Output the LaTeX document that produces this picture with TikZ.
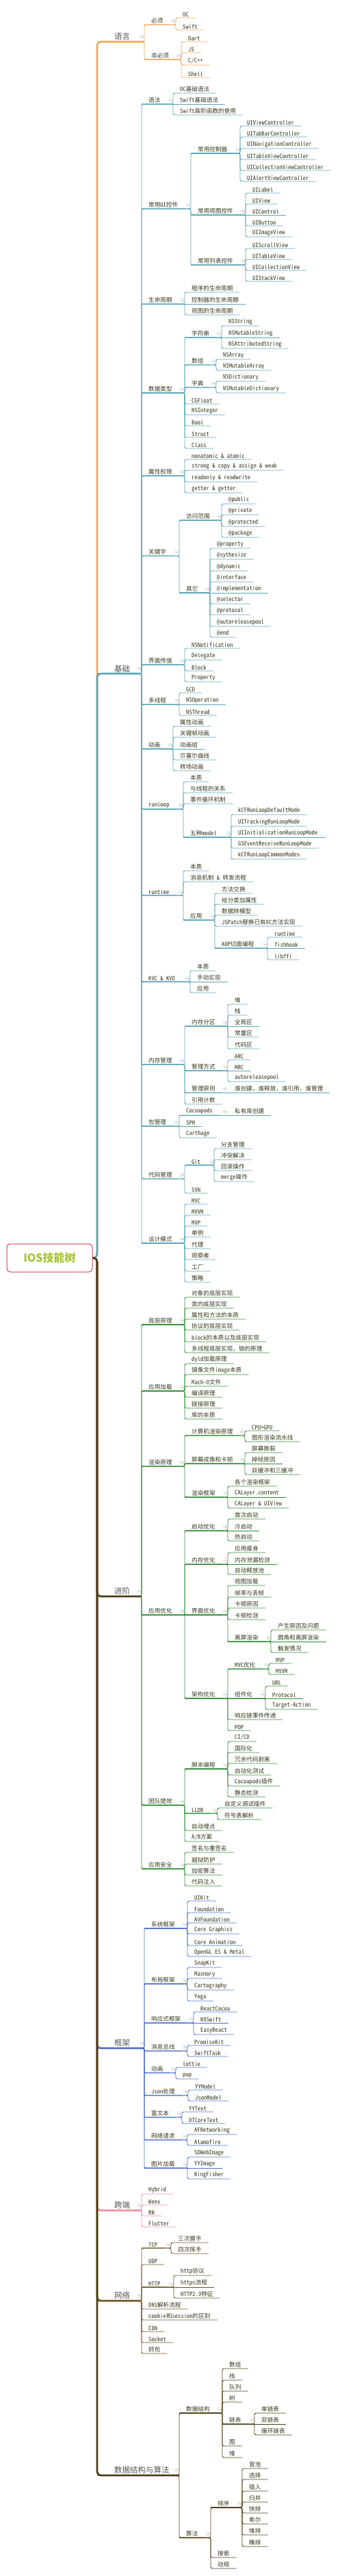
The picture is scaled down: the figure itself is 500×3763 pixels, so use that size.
\documentclass[tikz,border=0pt]{standalone}
\usepackage{fontspec}
\setmainfont{Noto Sans CJK SC}
\newfontfamily\monocjk{Noto Sans Mono CJK SC}
\usepackage{xcolor}
\usepackage{tikz}

\definecolor{langc}{HTML}{F2A65A}
\definecolor{basec}{HTML}{5AA4B8}
\definecolor{advc}{HTML}{2F8A33}
\definecolor{fwc}{HTML}{4C70C8}
\definecolor{xc}{HTML}{F08C9E}
\definecolor{netc}{HTML}{6E5220}
\definecolor{algc}{HTML}{4A3C12}
\definecolor{txt}{HTML}{34341A}
\definecolor{maintxt}{HTML}{555555}
\definecolor{rootred}{HTML}{D0404F}
\definecolor{rootgreen}{HTML}{A3C42F}

\begin{document}
\begin{tikzpicture}[x=1pt, y=-1pt,
    leaf/.style={anchor=south west, inner xsep=10pt, inner ysep=1.5pt, text=txt, font=\monocjk\fontsize{8.6}{10}\selectfont},
    topic/.style={anchor=south west, inner xsep=25pt, inner ysep=2pt, text=maintxt, font=\fontsize{11.5}{13}\selectfont},
    root/.style={draw=rootred, line width=1pt, rounded corners=5pt, minimum width=125pt, minimum height=41pt, text=rootgreen, font=\fontsize{16}{18}\selectfont\bfseries},
    ln/.style={draw=#1, line width=0.9pt},
    trunk/.style={draw=#1, line width=2.6pt, rounded corners=6pt},
    kid/.style={rounded corners=2.5pt, to path={-- (\tikztotarget.south west |- \tikztostart) |- (\tikztotarget.south east)}},
    flat/.style={to path={-- (\tikztotarget.south east)}},
    fold/.style={circle, draw=gray!40, line width=0.4pt, minimum size=5.5pt, inner sep=0pt, anchor=east, xshift=-1pt,
        path picture={\draw[gray!55, line width=0.4pt] ([xshift=1.3pt]path picture bounding box.west) -- ([xshift=-1.3pt]path picture bounding box.east);}}]
        \useasboundingbox (0,0) rectangle (500,3763);

        % Root
        \node[root] (root) at (72.5,1837.5) {IOS技能树};

        % 语言
        \node[topic] (lang) at (142,61) {语言};
        \node[leaf] (must) at (211,36) {必须};
        \node[leaf] (oc) at (257,26) {OC};
        \node[leaf] (swift) at (257,44) {Swift};
        \node[leaf] (optional) at (211,87) {非必须};
        \node[leaf] (dart) at (265,61) {Dart};
        \node[leaf] (js) at (265,77) {JS};
        \node[leaf] (cpp) at (265,95) {C/C++};
        \node[leaf] (shell) at (265,113) {Shell};

        % 基础
        \node[topic] (base) at (142,984) {基础};
        \node[leaf] (syntax) at (207,152) {语法};
        \node[leaf] (ocsyn) at (253,136) {OC基础语法};
        \node[leaf] (swiftsyn) at (253,152) {Swift基础语法};
        \node[leaf] (swifthof) at (253,168) {Swift高阶函数的使用};
        \node[leaf] (uikit) at (207,305) {常用UI控件};
        \node[leaf] (ctrls) at (279,224) {常用控制器};
        \node[leaf] (uivc) at (351,184) {UIViewController};
        \node[leaf] (uitabbar) at (351,200) {UITabBarController};
        \node[leaf] (uinav) at (351,217) {UINavigationController};
        \node[leaf] (uitablevc) at (351,233) {UITableViewController};
        \node[leaf] (uicollvc) at (351,249) {UICollectionViewController};
        \node[leaf] (uialert) at (351,265) {UIAlertViewController};
        \node[leaf] (views) at (279,314) {常用视图控件};
        \node[leaf] (uilabel) at (359,282) {UILabel};
        \node[leaf] (uiview) at (359,298) {UIView};
        \node[leaf] (uicontrol) at (359,314) {UIControl};
        \node[leaf] (uibutton) at (359,330) {UIButton};
        \node[leaf] (uiimage) at (359,346) {UIImageView};
        \node[leaf] (lists) at (279,387) {常用列表控件};
        \node[leaf] (uiscroll) at (359,363) {UIScrollView};
        \node[leaf] (uitable) at (359,379) {UITableView};
        \node[leaf] (uicoll) at (359,395) {UICollectionView};
        \node[leaf] (uistack) at (359,411) {UIStackView};
        \node[leaf] (life) at (207,444) {生命周期};
        \node[leaf] (applife) at (270,427) {程序的生命周期};
        \node[leaf] (vclife) at (270,444) {控制器的生命周期};
        \node[leaf] (viewlife) at (270,460) {视图的生命周期};
        \node[leaf] (types) at (207,574) {数据类型};
        \node[leaf] (strs) at (270,493) {字符串};
        \node[leaf] (nsstring) at (324,476) {NSString};
        \node[leaf] (nsmstring) at (324,493) {NSMutableString};
        \node[leaf] (nsattr) at (324,509) {NSAttributedString};
        \node[leaf] (arrs) at (270,533) {数组};
        \node[leaf] (nsarray) at (316,525) {NSArray};
        \node[leaf] (nsmarray) at (316,541) {NSMutableArray};
        \node[leaf] (dicts) at (270,566) {字典};
        \node[leaf] (nsdict) at (316,557) {NSDictionary};
        \node[leaf] (nsmdict) at (316,574) {NSMutableDictionary};
        \node[leaf] (cgfloat) at (270,590) {CGFloat};
        \node[leaf] (nsinteger) at (270,606) {NSInteger};
        \node[leaf] (bool) at (270,622) {Bool};
        \node[leaf] (struct) at (270,639) {Struct};
        \node[leaf] (class) at (270,655) {Class};
        \node[leaf] (props) at (207,695) {属性权限};
        \node[leaf] (atomic) at (270,671) {nonatomic \& atomic};
        \node[leaf] (strong) at (270,687) {strong \& copy \& assign \& weak};
        \node[leaf] (readonly) at (270,704) {readonly \& readwrite};
        \node[leaf] (getter) at (270,720) {getter \& getter};
        \node[leaf] (keys) at (207,812) {关键字};
        \node[leaf] (scope) at (262,760) {访问范围};
        \node[leaf] (public) at (324,736) {@public};
        \node[leaf] (private) at (324,752) {@private};
        \node[leaf] (protected) at (324,769) {@protected};
        \node[leaf] (package) at (324,785) {@package};
        \node[leaf] (others) at (262,866) {其它};
        \node[leaf] (property) at (307,801) {@property};
        \node[leaf] (synth) at (307,817) {@sythesize};
        \node[leaf] (dynamic) at (307,834) {@dynamic};
        \node[leaf] (interface) at (307,850) {@interface};
        \node[leaf] (impl) at (307,866) {@implementation};
        \node[leaf] (selector) at (307,882) {@selector};
        \node[leaf] (protocol) at (307,898) {@protocol};
        \node[leaf] (autorel) at (307,915) {@autoreleasepool};
        \node[leaf] (atend) at (307,931) {@end};
        \node[leaf] (pass) at (207,971) {界面传值};
        \node[leaf] (notif) at (270,947) {NSNotification};
        \node[leaf] (delegate) at (270,964) {Delegate};
        \node[leaf] (block) at (270,980) {Block};
        \node[leaf] (property2) at (270,996) {Property};
        \node[leaf] (thread) at (207,1029) {多线程};
        \node[leaf] (gcd) at (262,1012) {GCD};
        \node[leaf] (nsop) at (262,1029) {NSOperation};
        \node[leaf] (nsthread) at (262,1045) {NSThread};
        \node[leaf] (anim) at (207,1094) {动画};
        \node[leaf] (propanim) at (253,1061) {属性动画};
        \node[leaf] (keyanim) at (253,1077) {关键帧动画};
        \node[leaf] (groupanim) at (253,1094) {动画组};
        \node[leaf] (bezier) at (253,1110) {贝塞尔曲线};
        \node[leaf] (trans) at (253,1126) {转场动画};
        \node[leaf] (runloop) at (207,1182) {runloop};
        \node[leaf] (rlbasic) at (268,1142) {本质};
        \node[leaf] (rlthread) at (268,1158) {与线程的关系};
        \node[leaf] (rlevent) at (268,1174) {事件循环机制};
        \node[leaf] (rlmodes) at (268,1223) {五种model};
        \node[leaf] (mdefault) at (338,1190) {kCFRunLoopDefaultMode};
        \node[leaf] (mtrack) at (338,1207) {UITrackingRunLoopMode};
        \node[leaf] (minit) at (338,1223) {UIInitializationRunLoopMode};
        \node[leaf] (mgs) at (338,1239) {GSEventReceiveRunLoopMode};
        \node[leaf] (mcommon) at (338,1255) {kCFRunLoopCommonModes};
        \node[leaf] (runtime) at (207,1308) {runtime};
        \node[leaf] (rtbasic) at (268,1272) {本质};
        \node[leaf] (rtmsg) at (268,1288) {消息机制 \& 转发流程};
        \node[leaf] (rtuse) at (268,1344) {应用};
        \node[leaf] (swizzle) at (314,1305) {方法交换};
        \node[leaf] (catprop) at (314,1321) {给分类加属性};
        \node[leaf] (dictmodel) at (314,1337) {数据转模型};
        \node[leaf] (jspatch) at (314,1353) {JSPatch替换已有OC方法实现};
        \node[leaf] (aop) at (314,1385) {AOP切面编程};
        \node[leaf] (aoprt) at (391,1369) {runtime};
        \node[leaf] (fishhook) at (391,1385) {fishhook};
        \node[leaf] (libffi) at (391,1402) {libffi};
        \node[leaf] (kvo) at (207,1434) {KVC \& KVO};
        \node[leaf] (kvobasic) at (278,1418) {本质};
        \node[leaf] (kvomanual) at (278,1434) {手动实现};
        \node[leaf] (kvouse) at (278,1450) {应用};
        \node[leaf] (mem) at (207,1555) {内存管理};
        \node[leaf] (zones) at (270,1499) {内存分区};
        \node[leaf] (heap) at (333,1467) {堆};
        \node[leaf] (stack) at (333,1483) {栈};
        \node[leaf] (global) at (333,1499) {全局区};
        \node[leaf] (const) at (333,1515) {常量区};
        \node[leaf] (code) at (333,1532) {代码区};
        \node[leaf] (mmode) at (270,1564) {管理方式};
        \node[leaf] (arc) at (333,1548) {ARC};
        \node[leaf] (mrc) at (333,1564) {MRC};
        \node[leaf] (arpool) at (333,1580) {autoreleasepool};
        \node[leaf] (mrule) at (270,1596) {管理原则};
        \node[leaf] (whoown) at (333,1596) {谁创建，谁释放，谁引用，谁管理};
        \node[leaf] (refcount) at (270,1613) {引用计数};
        \node[leaf] (pkg) at (207,1645) {包管理};
        \node[leaf] (pods) at (262,1629) {Cocoapods};
        \node[leaf] (privlib) at (333,1629) {私有库创建};
        \node[leaf] (spm) at (262,1645) {SPM};
        \node[leaf] (carthage) at (262,1662) {Carthage};
        \node[leaf] (vcs) at (207,1722) {代码管理};
        \node[leaf] (git) at (270,1702) {Git};
        \node[leaf] (branch) at (313,1678) {分支管理};
        \node[leaf] (conflict) at (313,1694) {冲突解决};
        \node[leaf] (rollback) at (313,1710) {回滚操作};
        \node[leaf] (merge) at (313,1726) {merge操作};
        \node[leaf] (svn) at (270,1743) {SVN};
        \node[leaf] (pattern) at (207,1816) {设计模式};
        \node[leaf] (mvc) at (270,1759) {MVC};
        \node[leaf] (mvvm) at (270,1775) {MVVM};
        \node[leaf] (mvp) at (270,1791) {MVP};
        \node[leaf] (single) at (270,1807) {单例};
        \node[leaf] (proxy) at (270,1824) {代理};
        \node[leaf] (observer) at (270,1840) {观察者};
        \node[leaf] (factory) at (270,1857) {工厂};
        \node[leaf] (strategy) at (270,1873) {策略};

        % 进阶
        \node[topic] (adv) at (142,2332) {进阶};
        \node[leaf] (low) at (207,1935) {底层原理};
        \node[leaf] (objimpl) at (270,1895) {对象的底层实现};
        \node[leaf] (clsimpl) at (270,1911) {类的底层实现};
        \node[leaf] (propmeth) at (270,1927) {属性和方法的本质};
        \node[leaf] (protoimpl) at (270,1943) {协议的底层实现};
        \node[leaf] (blockimpl) at (270,1960) {block的本质以及底层实现};
        \node[leaf] (lockimpl) at (270,1976) {多线程底层实现，锁的原理};
        \node[leaf] (load) at (207,2032) {应用加载};
        \node[leaf] (dyld) at (270,1992) {dyld加载原理};
        \node[leaf] (image) at (270,2008) {镜像文件image本质};
        \node[leaf] (macho) at (270,2025) {Mach-O文件};
        \node[leaf] (compile) at (270,2041) {编译原理};
        \node[leaf] (link) at (270,2057) {链接原理};
        \node[leaf] (lib) at (270,2073) {库的本质};
        \node[leaf] (render) at (207,2142) {渲染原理};
        \node[leaf] (pcrender) at (270,2097) {计算机渲染原理};
        \node[leaf] (cpugpu) at (358,2090) {CPU+GPU};
        \node[leaf] (pipeline) at (358,2106) {图形渲染流水线};
        \node[leaf] (screen) at (270,2138) {屏幕成像和卡顿};
        \node[leaf] (tear) at (358,2122) {屏幕撕裂};
        \node[leaf] (drop) at (358,2138) {掉帧原因};
        \node[leaf] (buffer) at (358,2154) {双缓冲和三缓冲};
        \node[leaf] (rframe) at (270,2187) {渲染框架};
        \node[leaf] (allfw) at (333,2171) {各个渲染框架};
        \node[leaf] (calcontent) at (333,2187) {CALayer.content};
        \node[leaf] (calview) at (333,2203) {CALayer \& UIView};
        \node[leaf] (tune) at (207,2359) {应用优化};
        \node[leaf] (launch) at (270,2236) {启动优化};
        \node[leaf] (first) at (333,2219) {首次启动};
        \node[leaf] (cold) at (333,2236) {冷启动};
        \node[leaf] (hot) at (333,2251) {热启动};
        \node[leaf] (memopt) at (270,2285) {内存优化};
        \node[leaf] (slim) at (333,2268) {应用瘦身};
        \node[leaf] (leak) at (333,2285) {内存泄漏检测};
        \node[leaf] (arpooltwo) at (333,2300) {自动释放池};
        \node[leaf] (uiopt) at (270,2359) {界面优化};
        \node[leaf] (viewload) at (333,2316) {视图加载};
        \node[leaf] (fps) at (333,2333) {帧率与丢帧};
        \node[leaf] (lagwhy) at (333,2349) {卡顿原因};
        \node[leaf] (lagcheck) at (333,2366) {卡顿检测};
        \node[leaf] (offscreen) at (333,2398) {离屏渲染};
        \node[leaf] (offwhy) at (396,2381) {产生原因及问题};
        \node[leaf] (corner) at (396,2398) {圆角和离屏渲染};
        \node[leaf] (trigger) at (396,2414) {触发情况};
        \node[leaf] (arch) at (270,2481) {架构优化};
        \node[leaf] (mvcopt) at (333,2438) {MVC优化};
        \node[leaf] (mvptwo) at (393,2430) {MVP};
        \node[leaf] (mvvmtwo) at (393,2446) {MVVM};
        \node[leaf] (compo) at (333,2481) {组件化};
        \node[leaf] (url) at (388,2463) {URL};
        \node[leaf] (prototwo) at (388,2481) {Protocol};
        \node[leaf] (target) at (388,2497) {Target-Action};
        \node[leaf] (chain) at (333,2512) {响应链事件传递};
        \node[leaf] (pop) at (333,2528) {POP};
        \node[leaf] (team) at (207,2637) {团队提效};
        \node[leaf] (script) at (270,2584) {脚本编程};
        \node[leaf] (cicd) at (333,2544) {CI/CD};
        \node[leaf] (intl) at (333,2560) {国际化};
        \node[leaf] (strip) at (333,2576) {冗余代码剥离};
        \node[leaf] (autotest) at (333,2593) {自动化测试};
        \node[leaf] (podplugin) at (333,2609) {Cocoapods插件};
        \node[leaf] (lint) at (333,2625) {静态检测};
        \node[leaf] (lldb) at (270,2649) {LLDB};
        \node[leaf] (dbgplugin) at (318,2641) {自定义调试插件};
        \node[leaf] (symbol) at (318,2658) {符号表解析};
        \node[leaf] (track) at (270,2674) {自动埋点};
        \node[leaf] (abtest) at (270,2690) {A/B方案};
        \node[leaf] (sec) at (207,2730) {应用安全};
        \node[leaf] (sign) at (270,2706) {签名与重签名};
        \node[leaf] (jail) at (270,2723) {越狱防护};
        \node[leaf] (crypt) at (270,2739) {加密算法};
        \node[leaf] (inject) at (270,2755) {代码注入};

        % 框架
        \node[topic] (frame) at (142,2992) {框架};
        \node[leaf] (sysfw) at (211,2817) {系统框架};
        \node[leaf] (fuikit) at (274,2777) {UIKit};
        \node[leaf] (found) at (274,2794) {Foundation};
        \node[leaf] (avf) at (274,2809) {AVFoundation};
        \node[leaf] (cg) at (274,2825) {Core Graphics};
        \node[leaf] (ca) at (274,2842) {Core Animation};
        \node[leaf] (metal) at (274,2858) {OpenGL ES \& Metal};
        \node[leaf] (layout) at (211,2898) {布局框架};
        \node[leaf] (snapkit) at (274,2874) {SnapKit};
        \node[leaf] (masonry) at (274,2890) {Masnory};
        \node[leaf] (cartog) at (274,2907) {Cartography};
        \node[leaf] (yoga) at (274,2923) {Yoga};
        \node[leaf] (reactive) at (211,2955) {响应式框架};
        \node[leaf] (rac) at (283,2939) {ReactCocoa};
        \node[leaf] (rxswift) at (283,2955) {RXSwift};
        \node[leaf] (easyreact) at (283,2972) {EasyReact};
        \node[leaf] (bus) at (211,2996) {消息总线};
        \node[leaf] (promise) at (274,2988) {PromiseKit};
        \node[leaf] (swifttask) at (274,3004) {SwiftTask};
        \node[leaf] (fanim) at (211,3028) {动画};
        \node[leaf] (lottie) at (257,3020) {lottie};
        \node[leaf] (popfw) at (257,3037) {pop};
        \node[leaf] (json) at (211,3061) {Json处理};
        \node[leaf] (yymodel) at (275,3053) {YYModel};
        \node[leaf] (jsonmodel) at (275,3069) {JsonModel};
        \node[leaf] (rich) at (211,3093) {富文本};
        \node[leaf] (yytext) at (266,3085) {YYText};
        \node[leaf] (dtcore) at (266,3102) {DTCoreText};
        \node[leaf] (http) at (211,3126) {网络请求};
        \node[leaf] (afn) at (274,3118) {AFNetworking};
        \node[leaf] (alamo) at (274,3134) {Alamofire};
        \node[leaf] (img) at (211,3167) {图片加载};
        \node[leaf] (sdweb) at (274,3151) {SDWebImage};
        \node[leaf] (yyimage) at (274,3167) {YYImage};
        \node[leaf] (kingfisher) at (274,3183) {KingFisher};

        % 跨端
        \node[topic] (cross) at (142,3229) {跨端};
        \node[leaf] (hybrid) at (207,3205) {Hybrid};
        \node[leaf] (weex) at (207,3221) {Weex};
        \node[leaf] (rn) at (207,3237) {RN};
        \node[leaf] (flutter) at (207,3253) {Flutter};

        % 网络
        \node[topic] (net) at (142,3361) {网络};
        \node[leaf] (tcp) at (207,3284) {TCP};
        \node[leaf] (shake) at (250,3276) {三次握手};
        \node[leaf] (wave) at (250,3292) {四次挥手};
        \node[leaf] (udp) at (207,3308) {UDP};
        \node[leaf] (httpnet) at (207,3341) {HTTP};
        \node[leaf] (httpproto) at (254,3324) {http协议};
        \node[leaf] (https) at (254,3341) {https流程};
        \node[leaf] (httptwo) at (254,3357) {HTTP2.0特征};
        \node[leaf] (dns) at (207,3373) {DNS解析流程};
        \node[leaf] (cookie) at (207,3389) {cookie和session的区别};
        \node[leaf] (cdn) at (207,3406) {CDN};
        \node[leaf] (socket) at (207,3422) {Socket};
        \node[leaf] (capture) at (207,3438) {抓包};

        % 数据结构与算法
        \node[topic] (algo) at (142,3616) {数据结构与算法};
        \node[leaf] (ds) at (262,3525) {数据结构};
        \node[leaf] (darray) at (325,3460) {数组};
        \node[leaf] (dstack) at (325,3477) {栈};
        \node[leaf] (queue) at (325,3493) {队列};
        \node[leaf] (tree) at (325,3509) {树};
        \node[leaf] (list) at (325,3541) {链表};
        \node[leaf] (slist) at (372,3525) {单链表};
        \node[leaf] (dlist) at (372,3541) {双链表};
        \node[leaf] (clist) at (372,3557) {循环链表};
        \node[leaf] (graph) at (325,3573) {图};
        \node[leaf] (dheap) at (325,3590) {堆};
        \node[leaf] (alg) at (262,3707) {算法};
        \node[leaf] (sort) at (308,3663) {排序};
        \node[leaf] (bubble) at (354,3606) {冒泡};
        \node[leaf] (choose) at (354,3622) {选择};
        \node[leaf] (insert) at (354,3639) {插入};
        \node[leaf] (mergesort) at (354,3655) {归并};
        \node[leaf] (quick) at (354,3671) {快排};
        \node[leaf] (shellsort) at (354,3687) {希尔};
        \node[leaf] (heapsort) at (354,3703) {堆排};
        \node[leaf] (bucket) at (354,3720) {桶排};
        \node[leaf] (search) at (308,3736) {搜索};
        \node[leaf] (dp) at (308,3752) {动规};

        % Branches
        \draw[ln=langc] (lang.south west) edge[kid] (must) edge[kid] (optional) (lang.east -| must.south west) node[fold] (f-lang) {};
        \draw[ln=langc] (must.south west) edge[kid] (oc) edge[kid] (swift) (must.east -| oc.south west) node[fold] (f-must) {};
        \draw[ln=langc] (optional.south west) edge[kid] (dart) edge[kid] (js) edge[kid] (cpp) edge[kid] (shell) (optional.east -| dart.south west) node[fold] (f-optional) {};

        \draw[ln=basec] (base.south west) edge[kid] (syntax) edge[kid] (uikit) edge[kid] (life) edge[kid] (types) edge[kid] (props) edge[kid] (keys) edge[kid] (pass) edge[kid] (thread) edge[kid] (anim) edge[kid] (runloop) edge[kid] (runtime) edge[kid] (kvo) edge[kid] (mem) edge[kid] (pkg) edge[kid] (vcs) edge[kid] (pattern) (base.east -| syntax.south west) node[fold] (f-base) {};
        \draw[ln=basec] (syntax.south west) edge[kid] (ocsyn) edge[flat] (swiftsyn) edge[kid] (swifthof) (syntax.east -| ocsyn.south west) node[fold] (f-syntax) {};
        \draw[ln=basec] (uikit.south west) edge[kid] (ctrls) edge[kid] (views) edge[kid] (lists) (uikit.east -| ctrls.south west) node[fold] (f-uikit) {};
        \draw[ln=basec] (ctrls.south west) edge[kid] (uivc) edge[kid] (uitabbar) edge[kid] (uinav) edge[kid] (uitablevc) edge[kid] (uicollvc) edge[kid] (uialert) (ctrls.east -| uivc.south west) node[fold] (f-ctrls) {};
        \draw[ln=basec] (views.south west) edge[kid] (uilabel) edge[kid] (uiview) edge[flat] (uicontrol) edge[kid] (uibutton) edge[kid] (uiimage) (views.east -| uilabel.south west) node[fold] (f-views) {};
        \draw[ln=basec] (lists.south west) edge[kid] (uiscroll) edge[kid] (uitable) edge[kid] (uicoll) edge[kid] (uistack) (lists.east -| uiscroll.south west) node[fold] (f-lists) {};
        \draw[ln=basec] (life.south west) edge[kid] (applife) edge[flat] (vclife) edge[kid] (viewlife) (life.east -| applife.south west) node[fold] (f-life) {};
        \draw[ln=basec] (types.south west) edge[kid] (strs) edge[kid] (arrs) edge[kid] (dicts) edge[kid] (cgfloat) edge[kid] (nsinteger) edge[kid] (bool) edge[kid] (struct) edge[kid] (class) (types.east -| strs.south west) node[fold] (f-types) {};
        \draw[ln=basec] (strs.south west) edge[kid] (nsstring) edge[flat] (nsmstring) edge[kid] (nsattr) (strs.east -| nsstring.south west) node[fold] (f-strs) {};
        \draw[ln=basec] (arrs.south west) edge[kid] (nsarray) edge[kid] (nsmarray) (arrs.east -| nsarray.south west) node[fold] (f-arrs) {};
        \draw[ln=basec] (dicts.south west) edge[kid] (nsdict) edge[kid] (nsmdict) (dicts.east -| nsdict.south west) node[fold] (f-dicts) {};
        \draw[ln=basec] (props.south west) edge[kid] (atomic) edge[kid] (strong) edge[kid] (readonly) edge[kid] (getter) (props.east -| atomic.south west) node[fold] (f-props) {};
        \draw[ln=basec] (keys.south west) edge[kid] (scope) edge[kid] (others) (keys.east -| scope.south west) node[fold] (f-keys) {};
        \draw[ln=basec] (scope.south west) edge[kid] (public) edge[kid] (private) edge[kid] (protected) edge[kid] (package) (scope.east -| public.south west) node[fold] (f-scope) {};
        \draw[ln=basec] (others.south west) edge[kid] (property) edge[kid] (synth) edge[kid] (dynamic) edge[kid] (interface) edge[flat] (impl) edge[kid] (selector) edge[kid] (protocol) edge[kid] (autorel) edge[kid] (atend) (others.east -| property.south west) node[fold] (f-others) {};
        \draw[ln=basec] (pass.south west) edge[kid] (notif) edge[kid] (delegate) edge[kid] (block) edge[kid] (property2) (pass.east -| notif.south west) node[fold] (f-pass) {};
        \draw[ln=basec] (thread.south west) edge[kid] (gcd) edge[flat] (nsop) edge[kid] (nsthread) (thread.east -| gcd.south west) node[fold] (f-thread) {};
        \draw[ln=basec] (anim.south west) edge[kid] (propanim) edge[kid] (keyanim) edge[flat] (groupanim) edge[kid] (bezier) edge[kid] (trans) (anim.east -| propanim.south west) node[fold] (f-anim) {};
        \draw[ln=basec] (runloop.south west) edge[kid] (rlbasic) edge[kid] (rlthread) edge[kid] (rlevent) edge[kid] (rlmodes) (runloop.east -| rlbasic.south west) node[fold] (f-runloop) {};
        \draw[ln=basec] (rlmodes.south west) edge[kid] (mdefault) edge[kid] (mtrack) edge[flat] (minit) edge[kid] (mgs) edge[kid] (mcommon) (rlmodes.east -| mdefault.south west) node[fold] (f-rlmodes) {};
        \draw[ln=basec] (runtime.south west) edge[kid] (rtbasic) edge[kid] (rtmsg) edge[kid] (rtuse) (runtime.east -| rtbasic.south west) node[fold] (f-runtime) {};
        \draw[ln=basec] (rtuse.south west) edge[kid] (swizzle) edge[kid] (catprop) edge[kid] (dictmodel) edge[kid] (jspatch) edge[kid] (aop) (rtuse.east -| swizzle.south west) node[fold] (f-rtuse) {};
        \draw[ln=basec] (aop.south west) edge[kid] (aoprt) edge[flat] (fishhook) edge[kid] (libffi) (aop.east -| aoprt.south west) node[fold] (f-aop) {};
        \draw[ln=basec] (kvo.south west) edge[kid] (kvobasic) edge[flat] (kvomanual) edge[kid] (kvouse) (kvo.east -| kvobasic.south west) node[fold] (f-kvo) {};
        \draw[ln=basec] (mem.south west) edge[kid] (zones) edge[kid] (mmode) edge[kid] (mrule) edge[kid] (refcount) (mem.east -| zones.south west) node[fold] (f-mem) {};
        \draw[ln=basec] (zones.south west) edge[kid] (heap) edge[kid] (stack) edge[flat] (global) edge[kid] (const) edge[kid] (code) (zones.east -| heap.south west) node[fold] (f-zones) {};
        \draw[ln=basec] (mmode.south west) edge[kid] (arc) edge[flat] (mrc) edge[kid] (arpool) (mmode.east -| arc.south west) node[fold] (f-mmode) {};
        \draw[ln=basec] (mrule.south west) edge[flat] (whoown) (mrule.east -| whoown.south west) node[fold] (f-mrule) {};
        \draw[ln=basec] (pkg.south west) edge[kid] (pods) edge[flat] (spm) edge[kid] (carthage) (pkg.east -| pods.south west) node[fold] (f-pkg) {};
        \draw[ln=basec] (pods.south west) edge[flat] (privlib) (pods.east -| privlib.south west) node[fold] (f-pods) {};
        \draw[ln=basec] (vcs.south west) edge[kid] (git) edge[kid] (svn) (vcs.east -| git.south west) node[fold] (f-vcs) {};
        \draw[ln=basec] (git.south west) edge[kid] (branch) edge[kid] (conflict) edge[kid] (rollback) edge[kid] (merge) (git.east -| branch.south west) node[fold] (f-git) {};
        \draw[ln=basec] (pattern.south west) edge[kid] (mvc) edge[kid] (mvvm) edge[kid] (mvp) edge[kid] (single) edge[kid] (proxy) edge[kid] (observer) edge[kid] (factory) edge[kid] (strategy) (pattern.east -| mvc.south west) node[fold] (f-pattern) {};

        \draw[ln=advc] (adv.south west) edge[kid] (low) edge[kid] (load) edge[kid] (render) edge[kid] (tune) edge[kid] (team) edge[kid] (sec) (adv.east -| low.south west) node[fold] (f-adv) {};
        \draw[ln=advc] (low.south west) edge[kid] (objimpl) edge[kid] (clsimpl) edge[kid] (propmeth) edge[kid] (protoimpl) edge[kid] (blockimpl) edge[kid] (lockimpl) (low.east -| objimpl.south west) node[fold] (f-low) {};
        \draw[ln=advc] (load.south west) edge[kid] (dyld) edge[kid] (image) edge[kid] (macho) edge[kid] (compile) edge[kid] (link) edge[kid] (lib) (load.east -| dyld.south west) node[fold] (f-load) {};
        \draw[ln=advc] (render.south west) edge[kid] (pcrender) edge[kid] (screen) edge[kid] (rframe) (render.east -| pcrender.south west) node[fold] (f-render) {};
        \draw[ln=advc] (pcrender.south west) edge[kid] (cpugpu) edge[kid] (pipeline) (pcrender.east -| cpugpu.south west) node[fold] (f-pcrender) {};
        \draw[ln=advc] (screen.south west) edge[kid] (tear) edge[flat] (drop) edge[kid] (buffer) (screen.east -| tear.south west) node[fold] (f-screen) {};
        \draw[ln=advc] (rframe.south west) edge[kid] (allfw) edge[flat] (calcontent) edge[kid] (calview) (rframe.east -| allfw.south west) node[fold] (f-rframe) {};
        \draw[ln=advc] (tune.south west) edge[kid] (launch) edge[kid] (memopt) edge[flat] (uiopt) edge[kid] (arch) (tune.east -| launch.south west) node[fold] (f-tune) {};
        \draw[ln=advc] (launch.south west) edge[kid] (first) edge[flat] (cold) edge[kid] (hot) (launch.east -| first.south west) node[fold] (f-launch) {};
        \draw[ln=advc] (memopt.south west) edge[kid] (slim) edge[flat] (leak) edge[kid] (arpooltwo) (memopt.east -| slim.south west) node[fold] (f-memopt) {};
        \draw[ln=advc] (uiopt.south west) edge[kid] (viewload) edge[kid] (fps) edge[kid] (lagwhy) edge[kid] (lagcheck) edge[kid] (offscreen) (uiopt.east -| viewload.south west) node[fold] (f-uiopt) {};
        \draw[ln=advc] (offscreen.south west) edge[kid] (offwhy) edge[flat] (corner) edge[kid] (trigger) (offscreen.east -| offwhy.south west) node[fold] (f-offscreen) {};
        \draw[ln=advc] (arch.south west) edge[kid] (mvcopt) edge[flat] (compo) edge[kid] (chain) edge[kid] (pop) (arch.east -| mvcopt.south west) node[fold] (f-arch) {};
        \draw[ln=advc] (mvcopt.south west) edge[kid] (mvptwo) edge[kid] (mvvmtwo) (mvcopt.east -| mvptwo.south west) node[fold] (f-mvcopt) {};
        \draw[ln=advc] (compo.south west) edge[kid] (url) edge[flat] (prototwo) edge[kid] (target) (compo.east -| url.south west) node[fold] (f-compo) {};
        \draw[ln=advc] (team.south west) edge[kid] (script) edge[kid] (lldb) edge[kid] (track) edge[kid] (abtest) (team.east -| script.south west) node[fold] (f-team) {};
        \draw[ln=advc] (script.south west) edge[kid] (cicd) edge[kid] (intl) edge[kid] (strip) edge[kid] (autotest) edge[kid] (podplugin) edge[kid] (lint) (script.east -| cicd.south west) node[fold] (f-script) {};
        \draw[ln=advc] (lldb.south west) edge[kid] (dbgplugin) edge[kid] (symbol) (lldb.east -| dbgplugin.south west) node[fold] (f-lldb) {};
        \draw[ln=advc] (sec.south west) edge[kid] (sign) edge[kid] (jail) edge[kid] (crypt) edge[kid] (inject) (sec.east -| sign.south west) node[fold] (f-sec) {};

        \draw[ln=fwc] (frame.south west) edge[kid] (sysfw) edge[kid] (layout) edge[kid] (reactive) edge[kid] (bus) edge[kid] (fanim) edge[kid] (json) edge[kid] (rich) edge[kid] (http) edge[kid] (img) (frame.east -| sysfw.south west) node[fold] (f-frame) {};
        \draw[ln=fwc] (sysfw.south west) edge[kid] (fuikit) edge[kid] (found) edge[kid] (avf) edge[kid] (cg) edge[kid] (ca) edge[kid] (metal) (sysfw.east -| fuikit.south west) node[fold] (f-sysfw) {};
        \draw[ln=fwc] (layout.south west) edge[kid] (snapkit) edge[kid] (masonry) edge[kid] (cartog) edge[kid] (yoga) (layout.east -| snapkit.south west) node[fold] (f-layout) {};
        \draw[ln=fwc] (reactive.south west) edge[kid] (rac) edge[flat] (rxswift) edge[kid] (easyreact) (reactive.east -| rac.south west) node[fold] (f-reactive) {};
        \draw[ln=fwc] (bus.south west) edge[kid] (promise) edge[kid] (swifttask) (bus.east -| promise.south west) node[fold] (f-bus) {};
        \draw[ln=fwc] (fanim.south west) edge[kid] (lottie) edge[kid] (popfw) (fanim.east -| lottie.south west) node[fold] (f-fanim) {};
        \draw[ln=fwc] (json.south west) edge[kid] (yymodel) edge[kid] (jsonmodel) (json.east -| yymodel.south west) node[fold] (f-json) {};
        \draw[ln=fwc] (rich.south west) edge[kid] (yytext) edge[kid] (dtcore) (rich.east -| yytext.south west) node[fold] (f-rich) {};
        \draw[ln=fwc] (http.south west) edge[kid] (afn) edge[kid] (alamo) (http.east -| afn.south west) node[fold] (f-http) {};
        \draw[ln=fwc] (img.south west) edge[kid] (sdweb) edge[flat] (yyimage) edge[kid] (kingfisher) (img.east -| sdweb.south west) node[fold] (f-img) {};

        \draw[ln=xc] (cross.south west) edge[kid] (hybrid) edge[kid] (weex) edge[kid] (rn) edge[kid] (flutter) (cross.east -| hybrid.south west) node[fold] (f-cross) {};

        \draw[ln=netc] (net.south west) edge[kid] (tcp) edge[kid] (udp) edge[kid] (httpnet) edge[kid] (dns) edge[kid] (cookie) edge[kid] (cdn) edge[kid] (socket) edge[kid] (capture) (net.east -| tcp.south west) node[fold] (f-net) {};
        \draw[ln=netc] (tcp.south west) edge[kid] (shake) edge[kid] (wave) (tcp.east -| shake.south west) node[fold] (f-tcp) {};
        \draw[ln=netc] (httpnet.south west) edge[kid] (httpproto) edge[flat] (https) edge[kid] (httptwo) (httpnet.east -| httpproto.south west) node[fold] (f-httpnet) {};

        \draw[ln=algc] (algo.south west) edge[kid] (ds) edge[kid] (alg) (algo.east -| ds.south west) node[fold] (f-algo) {};
        \draw[ln=algc] (ds.south west) edge[kid] (darray) edge[kid] (dstack) edge[kid] (queue) edge[kid] (tree) edge[kid] (list) edge[kid] (graph) edge[kid] (dheap) (ds.east -| darray.south west) node[fold] (f-ds) {};
        \draw[ln=algc] (list.south west) edge[kid] (slist) edge[flat] (dlist) edge[kid] (clist) (list.east -| slist.south west) node[fold] (f-list) {};
        \draw[ln=algc] (alg.south west) edge[kid] (sort) edge[kid] (search) edge[kid] (dp) (alg.east -| sort.south west) node[fold] (f-alg) {};
        \draw[ln=algc] (sort.south west) edge[kid] (bubble) edge[kid] (choose) edge[kid] (insert) edge[kid] (mergesort) edge[kid] (quick) edge[kid] (shellsort) edge[kid] (heapsort) edge[kid] (bucket) (sort.east -| bubble.south west) node[fold] (f-sort) {};

        % Trunk
        \draw[trunk=langc] (root.east) -| (lang.south west) -- (lang.south west -| must.south west);
        \draw[trunk=basec] (root.east) -| (base.south west) -- (base.south west -| syntax.south west);
        \draw[trunk=algc] (root.east) -| (adv.south west) -- (adv.south west -| low.south west);
        \draw[trunk=fwc] (root.east) -| (frame.south west) -- (frame.south west -| sysfw.south west);
        \draw[trunk=xc] (root.east) -| (cross.south west) -- (cross.south west -| hybrid.south west);
        \draw[trunk=netc] (root.east) -| (net.south west) -- (net.south west -| tcp.south west);
        \draw[trunk=algc] (root.east) -| (algo.south west) -- (algo.south west -| ds.south west);
    \end{tikzpicture}
\end{document}
